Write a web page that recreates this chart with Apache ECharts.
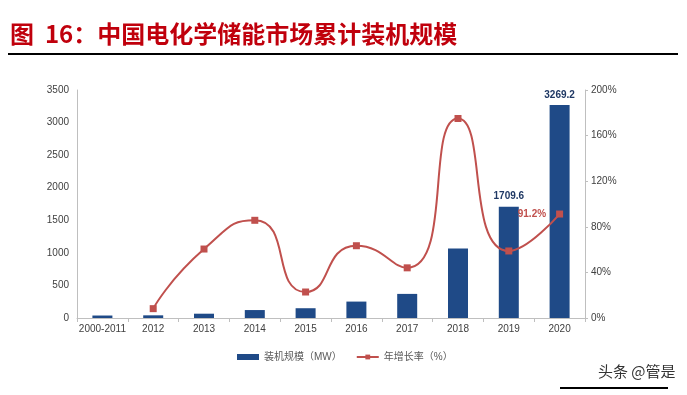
<!DOCTYPE html>
<html><head><meta charset="utf-8">
<script src="https://cdn.jsdelivr.net/npm/echarts@6/dist/echarts.min.js"></script>
<style>html,body{margin:0;padding:0;background:#fff}#c{width:687px;height:395px}</style>
</head><body><div id="c"></div>
<script>
const categories = ['2000-2011','2012','2013','2014','2015','2016','2017','2018','2019','2020'];
const capacityMW = [38, 41, 66, 122, 150, 252, 370, 1068, 1709.6, 3269.2];
const growthPct = [null, 8.2, 60.5, 85.7, 22.8, 63.4, 44.0, 175.0, 58.8, 91.2];
const leftTicks = [0, 3500, 500];
const rightTicks = [0, 200, 40];
const seriesNames = ['装机规模（MW）', '年增长率（%）'];
const titleText = '图  16：中国电化学储能市场累计装机规模';
const footerText = '头条 @管是';

const labeledBars = ['2019', '2020'];
const labeledPoints = ['2020'];

const font = '"Liberation Sans", "Noto Sans CJK SC", sans-serif';
const barData = capacityMW.map((v, i) => labeledBars.includes(categories[i])
  ? { value: v, label: { show: true, position: 'top', distance: 5, color: '#1f3864', fontWeight: 'bold', fontSize: 10, fontFamily: font } }
  : v);
const lineData = growthPct.map((v, i) => labeledPoints.includes(categories[i])
  ? { value: v, label: { show: true, position: 'left', distance: 10, formatter: '{c}%', color: '#c0504d', fontWeight: 'bold', fontSize: 10, fontFamily: font } }
  : v);

const chart = echarts.init(document.getElementById('c'));
chart.setOption({
  animation: false,
  backgroundColor: '#fff',
  textStyle: { fontFamily: font },
  grid: { left: 77, right: 102, top: 90, bottom: 77 },
  legend: {
    left: 232, top: 347, itemGap: 14, itemWidth: 22, itemHeight: 6,
    textStyle: { fontSize: 10, color: '#595959', fontFamily: font },
    data: [
      { name: seriesNames[0], icon: 'rect' },
      { name: seriesNames[1] }
    ]
  },
  xAxis: {
    type: 'category', data: categories, boundaryGap: true,
    axisLine: { lineStyle: { color: '#bfbfbf' } },
    axisTick: { show: true, length: 4, lineStyle: { color: '#bfbfbf' } },
    axisLabel: { color: '#404040', fontSize: 10, margin: 6, interval: 0 }
  },
  yAxis: [
    { type: 'value', min: leftTicks[0], max: leftTicks[1], interval: leftTicks[2],
      axisLine: { show: true, lineStyle: { color: '#bfbfbf' } },
      axisTick: { show: false },
      splitLine: { show: false },
      axisLabel: { color: '#404040', fontSize: 10, margin: 8, formatter: v => String(v) } },
    { type: 'value', min: rightTicks[0], max: rightTicks[1], interval: rightTicks[2], position: 'right',
      axisLine: { show: true, lineStyle: { color: '#bfbfbf' } },
      axisTick: { show: true, length: 3, lineStyle: { color: '#bfbfbf' } },
      splitLine: { show: false },
      axisLabel: { color: '#404040', fontSize: 10, margin: 6, formatter: '{value}%' } }
  ],
  series: [
    { name: seriesNames[0], type: 'bar', yAxisIndex: 0, data: barData, barWidth: 20,
      itemStyle: { color: '#1f4a87' } },
    { name: seriesNames[1], type: 'line', yAxisIndex: 1, data: lineData, smooth: 0.6,
      symbol: 'rect', symbolSize: 7,
      lineStyle: { color: '#c0504d', width: 2 },
      itemStyle: { color: '#c0504d' } }
  ],
  graphic: [
    { type: 'text', left: 10, top: 22, style: { text: titleText, fill: '#c0000c', fontSize: 24, fontWeight: 'bold', fontFamily: '"Noto Sans CJK SC", sans-serif' } },
    { type: 'rect', shape: { x: 8, y: 53, width: 670, height: 2 }, style: { fill: '#000' } },
    { type: 'text', left: 598, top: 364, style: { text: footerText, fill: '#333', fontSize: 15, fontFamily: '"Noto Sans CJK SC", sans-serif' } },
    { type: 'rect', shape: { x: 560, y: 387, width: 108, height: 2 }, style: { fill: '#000' } }
  ]
});
</script></body></html>
